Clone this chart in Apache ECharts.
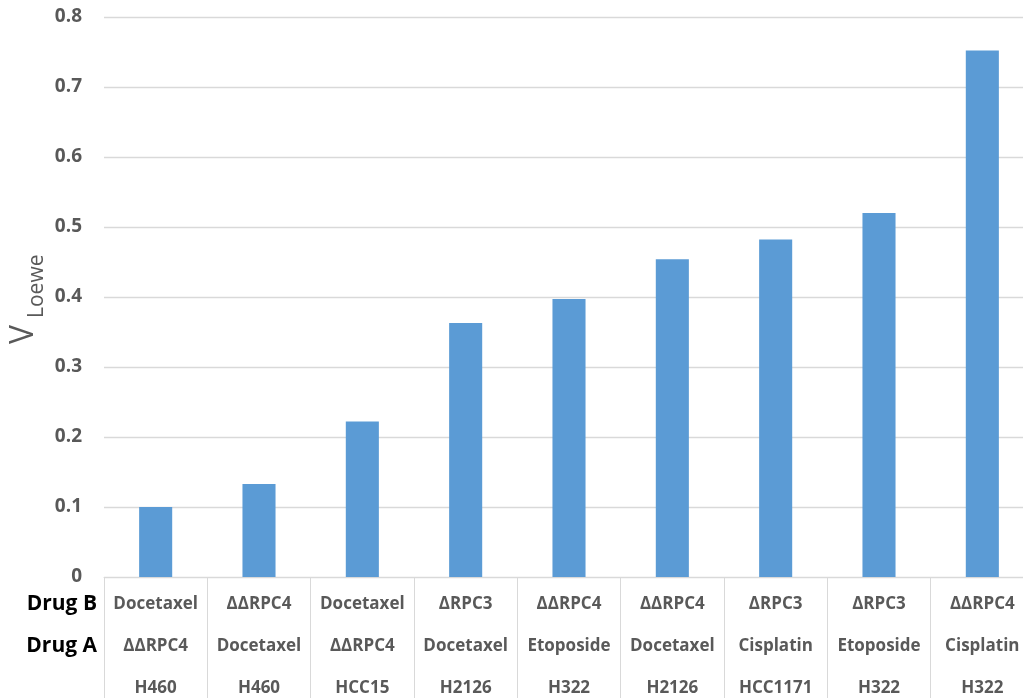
<!DOCTYPE html>
<html>
<head>
<meta charset="utf-8">
<script src="https://cdn.jsdelivr.net/npm/echarts@6/dist/echarts.min.js"></script>
<style>
  html, body { margin: 0; padding: 0; background: #fff; }
  #chart { width: 1023px; height: 698px; }
</style>
</head>
<body>
<div id="chart"></div>
<script>
// Combination rows shown under each bar
const drugB = ['Docetaxel', 'ΔΔRPC4', 'Docetaxel', 'ΔRPC3', 'ΔΔRPC4', 'ΔΔRPC4', 'ΔRPC3', 'ΔRPC3', 'ΔΔRPC4'];
const drugA = ['ΔΔRPC4', 'Docetaxel', 'ΔΔRPC4', 'Docetaxel', 'Etoposide', 'Docetaxel', 'Cisplatin', 'Etoposide', 'Cisplatin'];
const cellLines = ['H460', 'H460', 'HCC15', 'H2126', 'H322', 'H2126', 'HCC1171', 'H322', 'H322'];

// Loewe synergy volume per combination
const vLoewe = [0.100, 0.133, 0.222, 0.363, 0.397, 0.454, 0.482, 0.520, 0.752];

// Value axis ticks
const yMin = 0, yMax = 0.8, yStep = 0.1;

const categories = cellLines.map((c, i) => i);

const chart = echarts.init(document.getElementById('chart'), null, { renderer: 'canvas' });

const gridLine = '#d9d9d9';
const labelGray = '#595959';

chart.setOption({
  animation: false,
  backgroundColor: '#ffffff',
  grid: { left: 104, top: 17, width: 930, height: 560, containLabel: false, outerBoundsMode: 'none' },
  xAxis: {
    type: 'category',
    data: categories,
    axisLine: { show: true, lineStyle: { color: gridLine, width: 1 } },
    axisTick: { show: true, length: 130, interval: 0, lineStyle: { color: gridLine, width: 1 } },
    axisLabel: {
      interval: 0,
      margin: 6,
      fontFamily: 'Open Sans',
      fontWeight: 'bold',
      fontSize: 17,
      color: labelGray,
      lineHeight: 42,
      formatter: (v, i) => drugB[i] + '\n' + drugA[i] + '\n' + cellLines[i]
    }
  },
  yAxis: {
    type: 'value',
    min: yMin,
    max: yMax,
    interval: yStep,
    axisLine: { show: false },
    axisTick: { show: false },
    splitLine: { lineStyle: { color: gridLine, width: 1.3 } },
    axisLabel: {
      margin: 22,
      fontFamily: 'Open Sans',
      fontWeight: 'bold',
      fontSize: 19,
      color: labelGray,
      formatter: v => (v === 0 ? '0' : v.toFixed(1))
    }
  },
  series: [{
    type: 'bar',
    data: vLoewe,
    barWidth: '32%',
    itemStyle: { color: '#5b9bd5' }
  }],
  graphic: [
    // Row headers for the label table
    { type: 'text', x: 97, y: 604, style: { text: 'Drug B', font: 'bold 21px "Open Sans"', fill: '#000', align: 'right', verticalAlign: 'middle' } },
    { type: 'text', x: 97, y: 646, style: { text: 'Drug A', font: 'bold 21px "Open Sans"', fill: '#000', align: 'right', verticalAlign: 'middle' } },
    // Y axis title: V with subscript "Loewe", rotated to read upward
    { type: 'text', x: 24, y: 344, rotation: Math.PI / 2, style: { text: 'V', font: '32px "Open Sans"', fill: labelGray, align: 'left', verticalAlign: 'middle' } },
    { type: 'text', x: 37, y: 318, rotation: Math.PI / 2, style: { text: 'Loewe', font: '21px "Open Sans"', fill: labelGray, align: 'left', verticalAlign: 'middle' } }
  ]
});
</script>
</body>
</html>
